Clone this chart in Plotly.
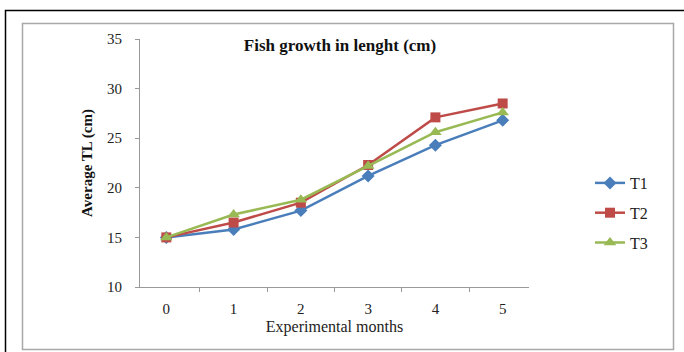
import plotly.graph_objects as go

months = ["0", "1", "2", "3", "4", "5"]
t1 = [15.0, 15.8, 17.7, 21.2, 24.3, 26.8]
t2 = [15.0, 16.5, 18.5, 22.3, 27.1, 28.5]
t3 = [15.0, 17.3, 18.8, 22.2, 25.6, 27.6]
series_names = ["T1", "T2", "T3"]
y_ticks = [10, 15, 20, 25, 30, 35]

W, H = 684, 352
L, R, T, B = 140, 529, 39, 287

def px(x):
    return (x - L) / (R - L)

def py(y):
    return (B - y) / (B - T)

fig = go.Figure()
styles = [
    dict(color="#4a7ebb", symbol="diamond", size=10),
    dict(color="#be4b48", symbol="square", size=10),
    dict(color="#98b954", symbol="triangle-up", size=11),
]
for name, vals, st in zip(series_names, [t1, t2, t3], styles):
    fig.add_trace(go.Scatter(
        x=months, y=vals, name=name, mode="lines+markers",
        legendgroup=name,
        line=dict(color=st["color"], width=2.5),
        marker=dict(color=st["color"], symbol=st["symbol"], size=st["size"]),
    ))

fig.update_layout(
    width=W, height=H,
    margin=dict(l=L, r=W - R, t=T, b=H - B),
    paper_bgcolor="white", plot_bgcolor="white",
    font=dict(family="Liberation Serif", size=15, color="#222"),
    title=dict(text="<b>Fish growth in lenght (cm)</b>", x=px(340), xref="paper",
               xanchor="center", y=1 - 45 / H, yanchor="middle",
               font=dict(family="Liberation Serif", size=17, color="#111")),
    legend=dict(x=px(590), xanchor="left", y=py(166), yanchor="top",
                traceorder="grouped", tracegroupgap=6,
                font=dict(family="Liberation Serif", size=16, color="#222"),
                bgcolor="rgba(0,0,0,0)"),
    showlegend=True,
)
fig.update_xaxes(
    type="category", tickson="boundaries", ticks="outside", ticklen=4,
    tickcolor="#999", showline=True, linecolor="#999", linewidth=1,
    showgrid=False, zeroline=False, ticklabelstandoff=8,
    title=dict(text="Experimental months", standoff=4,
               font=dict(family="Liberation Serif", size=16, color="#222")),
    tickfont=dict(family="Liberation Serif", size=15, color="#222"),
)
fig.update_yaxes(
    range=[10, 35], tickvals=y_ticks, ticks="outside", ticklen=4,
    tickcolor="#999", showline=True, linecolor="#999", linewidth=1,
    showgrid=False, zeroline=False, ticklabelstandoff=10,
    title=dict(text="<b>Average TL (cm)</b>", standoff=10,
               font=dict(family="Liberation Serif", size=15, color="#111")),
    tickfont=dict(family="Liberation Serif", size=15, color="#222"),
)

# frames
fig.add_shape(type="rect", xref="paper", yref="paper",
              x0=px(5.5), x1=px(700), y0=py(370), y1=py(10.5),
              line=dict(color="black", width=1.5), fillcolor="rgba(0,0,0,0)", layer="below")
fig.add_shape(type="rect", xref="paper", yref="paper",
              x0=px(22.5), x1=px(673.5), y0=py(349.5), y1=py(23.5),
              line=dict(color="#a8a8a8", width=1.5), fillcolor="rgba(0,0,0,0)", layer="below")

fig.write_html("out.html", config={"displayModeBar": False},
               post_script="document.body.style.margin='0';document.body.style.overflow='hidden';")
